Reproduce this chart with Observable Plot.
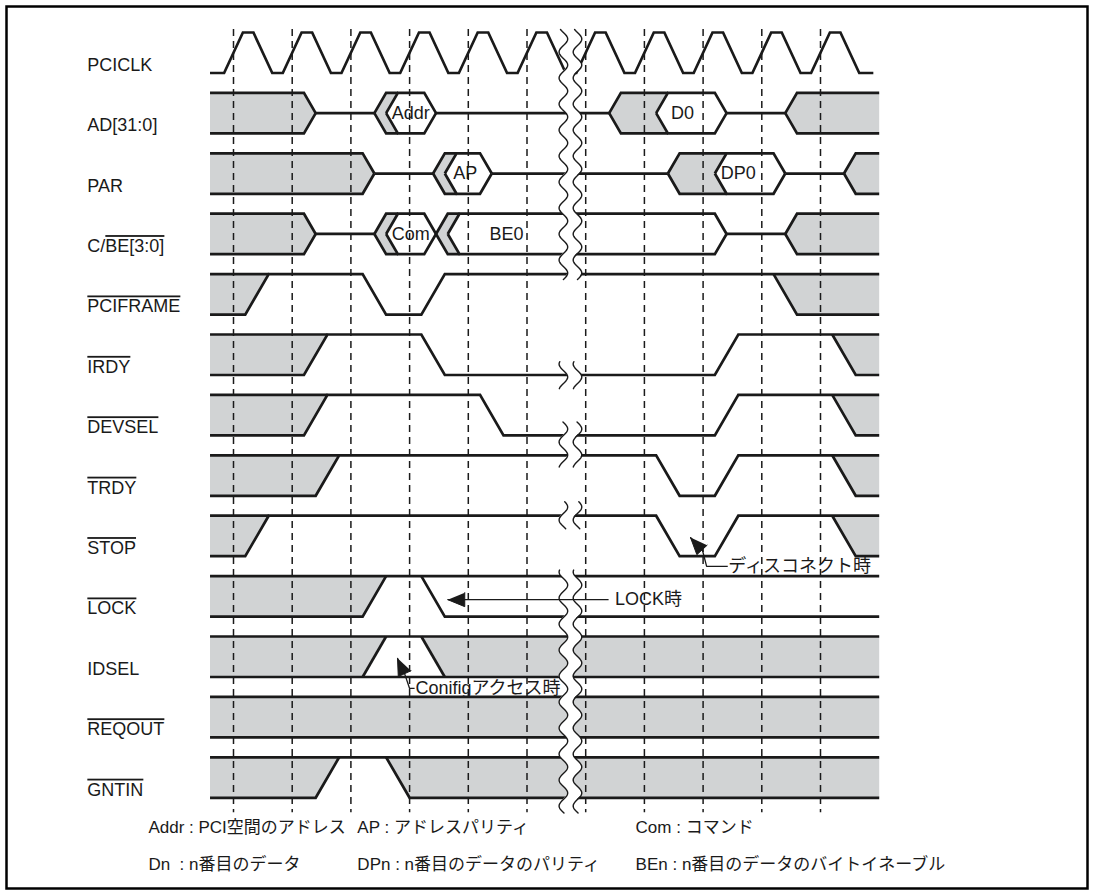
<!DOCTYPE html>
<html><head><meta charset="utf-8">
<script src="https://cdn.jsdelivr.net/npm/d3@7"></script>
<script src="https://cdn.jsdelivr.net/npm/@observablehq/plot@0.6"></script>
<style>body{margin:0;background:#fff}#chart svg{display:block}</style>
</head><body><div id="chart"></div>
<script>
// ================= DATA (times in clock periods, levels 1=high 0=low 0.5=Hi-Z) =================
const signalNames = ["PCICLK","AD[31:0]","PAR","C/BE[3:0]","PCIFRAME","IRDY","DEVSEL","TRDY","STOP","LOCK","IDSEL","REQOUT","GNTIN"];
const overlinedNames = ["PCIFRAME","IRDY","DEVSEL","TRDY","STOP","LOCK","REQOUT","GNTIN"];
const partialOverline = {"C/BE[3:0]": ["C/", "BE[3:0]"]};

const clockTicks = [0,1,2,3,4,5,6,7,8,9,10];
const clkRise = [0,1,2,3,4,5,6,7,8,9,10];
const clkFall = [0.5,1.5,2.5,3.5,4.5,5.5,6.5,7.5,8.5,9.5,10.5];
const clkSpan = [-0.4, 10.9];

const adBus = [
  {kind:"x", start:-0.4, end:1.4},
  {kind:"z", start:1.4, end:2.4},
  {kind:"x", start:2.4, end:2.6},
  {kind:"v", start:2.6, end:3.45, label:"Addr", at:3.02},
  {kind:"z", start:3.45, end:6.4},
  {kind:"x", start:6.4, end:7.2},
  {kind:"v", start:7.2, end:8.4, label:"D0", at:7.65},
  {kind:"z", start:8.4, end:9.4},
  {kind:"x", start:9.4, end:11}
];
const parBus = [
  {kind:"x", start:-0.4, end:2.4},
  {kind:"z", start:2.4, end:3.4},
  {kind:"x", start:3.4, end:3.6},
  {kind:"v", start:3.6, end:4.4, label:"AP", at:3.95},
  {kind:"z", start:4.4, end:7.4},
  {kind:"x", start:7.4, end:8.2},
  {kind:"v", start:8.2, end:9.4, label:"DP0", at:8.6},
  {kind:"z", start:9.4, end:10.4},
  {kind:"x", start:10.4, end:11}
];
const cbeBus = [
  {kind:"x", start:-0.4, end:1.4},
  {kind:"z", start:1.4, end:2.4},
  {kind:"x", start:2.4, end:2.6},
  {kind:"v", start:2.6, end:3.45, label:"Com", at:3.02},
  {kind:"x", start:3.45, end:3.65},
  {kind:"v", start:3.65, end:8.4, label:"BE0", at:4.65},
  {kind:"z", start:8.4, end:9.4},
  {kind:"x", start:9.4, end:11}
];

const pciframeLines = [[[-0.4,0],[0.2,0],[0.6,1],[2.2,1],[2.6,0],[3.2,0],[3.6,1],[11,1]], [[-0.4,1],[0.6,1]], [[9.2,1],[9.6,0],[11,0]]];
const pciframeGray  = [[[-0.4,1],[0.6,1],[0.2,0],[-0.4,0]], [[9.2,1],[11,1],[11,0],[9.6,0]]];
const irdyLines = [[[-0.4,0],[1.2,0],[1.6,1],[3.2,1],[3.6,0],[8.2,0],[8.6,1],[11,1]], [[-0.4,1],[1.6,1]], [[10.2,1],[10.6,0],[11,0]]];
const irdyGray  = [[[-0.4,1],[1.6,1],[1.2,0],[-0.4,0]], [[10.2,1],[11,1],[11,0],[10.6,0]]];
const devselLines = [[[-0.4,0],[1.2,0],[1.6,1],[4.2,1],[4.6,0],[8.2,0],[8.6,1],[11,1]], [[-0.4,1],[1.6,1]], [[10.2,1],[10.6,0],[11,0]]];
const devselGray  = [[[-0.4,1],[1.6,1],[1.2,0],[-0.4,0]], [[10.2,1],[11,1],[11,0],[10.6,0]]];
const trdyLines = [[[-0.4,0],[1.4,0],[1.8,1],[7.2,1],[7.6,0],[8.2,0],[8.6,1],[11,1]], [[-0.4,1],[1.8,1]], [[10.2,1],[10.6,0],[11,0]]];
const trdyGray  = [[[-0.4,1],[1.8,1],[1.4,0],[-0.4,0]], [[10.2,1],[11,1],[11,0],[10.6,0]]];
const stopLines = [[[-0.4,0],[0.2,0],[0.6,1],[7.2,1],[7.6,0],[8.2,0],[8.6,1],[11,1]], [[-0.4,1],[0.6,1]], [[10.2,1],[10.6,0],[11,0]]];
const stopGray  = [[[-0.4,1],[0.6,1],[0.2,0],[-0.4,0]], [[10.2,1],[11,1],[11,0],[10.6,0]]];
const lockLines = [[[-0.4,1],[11,1]], [[-0.4,0],[2.2,0],[2.6,1]], [[3.2,1],[3.6,0],[11,0]]];
const lockGray  = [[[-0.4,1],[2.6,1],[2.2,0],[-0.4,0]]];
const idselLines = [[[-0.4,1],[11,1]], [[-0.4,0],[11,0]], [[2.2,0],[2.6,1]], [[3.2,1],[3.6,0]]];
const idselGray  = [[[-0.4,1],[2.6,1],[2.2,0],[-0.4,0]], [[3.2,1],[11,1],[11,0],[3.6,0]]];
const reqoutLines = [[[-0.4,1],[11,1]], [[-0.4,0],[11,0]]];
const reqoutGray  = [[[-0.4,1],[11,1],[11,0],[-0.4,0]]];
const gntinLines = [[[-0.4,1],[11,1]], [[-0.4,0],[1.4,0],[1.8,1]], [[2.6,1],[3.0,0],[11,0]]];
const gntinGray  = [[[-0.4,1],[1.8,1],[1.4,0],[-0.4,0]], [[2.6,1],[11,1],[11,0],[3.0,0]]];

// break (time of the two wavy lines, vertical runs in row units)
const breakTimes = [5.62, 5.86];
const breakRuns = [[-0.05,4.1],[5.45,5.9],[6.45,7.2],[7.77,8.23],[8.9,12.93]];

// annotations: text anchor (t,row) and leader path ending at the arrow tip
const annotations = [
  {text:"LOCK時", t:6.5, row:9.39, path:[[6.39,9.39],[3.65,9.39]]},
  {text:"ディスコネクト時", t:8.43, row:8.84, path:[[8.42,8.84],[8.06,8.84],[7.99,8.576],[7.785,8.36]]},
  {text:"Conifigアクセス時", t:3.1, row:10.86, path:[[3.085,10.86],[3.0,10.86],[2.913,10.61],[2.794,10.36]]}
];

const noteTexts = [
  ["Addr : PCI空間のアドレス", "AP : アドレスパリティ", "Com : コマンド"],
  ["Dn\u00a0\u00a0: n番目のデータ", "DPn : n番目のデータのパリティ", "BEn : n番目のデータのバイトイネーブル"]
];

// ================= LAYOUT / STYLE =================
const X0 = 233, DX = 58.7, Y0 = 32, DY = 60.4;
const ROW_H = 40.5 / DY;
const W = 0.2, EDGE = 0.16, LEFT = -0.4, RIGHT = 11;
const GRAY = "#d1d3d4", INK = "#1a1a1a";
const FONT = '"Liberation Sans", Arial, "Noto Sans CJK JP", sans-serif';
const labelT = -2.49, labelDy = 0.54;
const noteCols = [-1.45, 2.11, 6.85], noteRows = [13.16, 13.78];

const lv = (row, level) => row + (1 - level) * ROW_H;
const fills = [], strokes = [], thin = [], heads = [];
let uid = 0;
function addPath(arr, row, pts) { const id = uid++; pts.forEach(([t, l]) => arr.push({id, x: t, y: lv(row, l)})); }

// clock
{
  const pts = [[clkSpan[0], 0]];
  clkRise.forEach((r, i) => { pts.push([r - EDGE, 0], [r + EDGE, 1], [clkFall[i] - EDGE, 1], [clkFall[i] + EDGE, 0]); });
  pts.push([clkSpan[1], 0]);
  addPath(strokes, 0, pts);
}
// buses
const busLabels = [];
function addBus(row, segs) {
  segs.forEach((s, i) => {
    if (s.kind === "z") { addPath(strokes, row, [[s.start, .5], [s.end, .5]]); return; }
    const next = segs[i + 1];
    const flatL = s.start <= LEFT, flatR = s.end >= RIGHT;
    const notchR = !flatR && next && next.kind === "v" && s.kind === "x";
    const xl = flatL ? s.start : s.start + W;
    const xr = flatR ? s.end : notchR ? s.end + W : s.end - W;
    const upper = [], lower = [];
    if (!flatL) { upper.push([s.start, .5]); lower.push([s.start, .5]); }
    upper.push([xl, 1], [xr, 1]); lower.push([xl, 0], [xr, 0]);
    if (!flatR && !notchR) { upper.push([s.end, .5]); lower.push([s.end, .5]); }
    addPath(strokes, row, upper); addPath(strokes, row, lower);
    if (s.kind === "x") {
      const poly = [...upper];
      if (notchR) poly.push([s.end, .5]);
      poly.push(...lower.slice().reverse());
      addPath(fills, row, poly);
    }
    if (s.label) busLabels.push({x: s.at, y: lv(row, .5), text: s.label});
  });
}
addBus(1, adBus); addBus(2, parBus); addBus(3, cbeBus);
// control signals
[[4, pciframeLines, pciframeGray], [5, irdyLines, irdyGray], [6, devselLines, devselGray],
 [7, trdyLines, trdyGray], [8, stopLines, stopGray], [9, lockLines, lockGray],
 [10, idselLines, idselGray], [11, reqoutLines, reqoutGray], [12, gntinLines, gntinGray]]
.forEach(([row, lines, grays]) => {
  grays.forEach(g => addPath(fills, row, g));
  lines.forEach(l => addPath(strokes, row, l));
});

// break waves
const breakFill = [], breakLines = [];
breakRuns.forEach(([r1, r2], k) => {
  const p1 = Y0 + r1 * DY, p2 = Y0 + r2 * DY;
  for (let p = p1; p <= p2 + 0.01; p += 1) {
    const off = 4.3 * Math.sin(2 * Math.PI * (p - Y0) / 26) / DX;
    const y = (p - Y0) / DY;
    breakFill.push({id: k, y, x1: breakTimes[0] + off, x2: breakTimes[1] + off});
    breakLines.push({id: "a" + k, y, x: breakTimes[0] + off});
    breakLines.push({id: "b" + k, y, x: breakTimes[1] + off});
  }
});

// annotation arrows
const annText = [];
annotations.forEach(a => {
  addPath(thin, 0, a.path.map(([t, r]) => [t, 1 - (r) / ROW_H]));
  annText.push({x: a.t, y: a.row, text: a.text});
  const n = a.path.length;
  const [tt, tr] = a.path[n - 1], [bt, br] = a.path[n - 2];
  const tip = [X0 + tt * DX, Y0 + tr * DY], prev = [X0 + bt * DX, Y0 + br * DY];
  let ux = prev[0] - tip[0], uy = prev[1] - tip[1]; const len = Math.hypot(ux, uy); ux /= len; uy /= len;
  const L = 17, H = 7;
  const bx = tip[0] + ux * L, by = tip[1] + uy * L;
  const pts = [tip, [bx - uy * H, by + ux * H], [bx + uy * H, by - ux * H]];
  const id = uid++;
  pts.forEach(([px, py]) => heads.push({id, x: (px - X0) / DX, y: (py - Y0) / DY}));
});

const labels = signalNames.map((s, i) => ({x: labelT, y: i + labelDy, text: s}));
const notes = [];
noteTexts.forEach((line, j) => line.forEach((s, c) => notes.push({x: noteCols[c], y: noteRows[j], text: s})));

const chart = Plot.plot({
  width: 1093, height: 896,
  marginLeft: 6, marginRight: 6, marginTop: 6, marginBottom: 8,
  x: {domain: [0, 10], range: [X0, X0 + 10 * DX], axis: null},
  y: {domain: [0, 13], range: [Y0, Y0 + 13 * DY], axis: null},
  style: {background: "white", fontFamily: FONT, overflow: "visible"},
  marks: [
    Plot.line(fills, {x: "x", y: "y", z: "id", fill: GRAY, stroke: "none"}),
    Plot.ruleX(clockTicks, {x: d => d, y1: -0.05, y2: 12.92, stroke: INK, strokeWidth: 1.5, strokeDasharray: "7,5"}),
    Plot.line(strokes, {x: "x", y: "y", z: "id", stroke: INK, strokeWidth: 2.7, strokeLinejoin: "miter", strokeMiterlimit: 6, strokeLinecap: "butt"}),
    Plot.areaX(breakFill, {y: "y", x1: "x1", x2: "x2", z: "id", fill: "white"}),
    Plot.line(breakLines, {x: "x", y: "y", z: "id", stroke: INK, strokeWidth: 1.4}),
    Plot.line(thin, {x: "x", y: "y", z: "id", stroke: INK, strokeWidth: 1.3, strokeLinejoin: "miter", strokeLinecap: "butt"}),
    Plot.line(heads, {x: "x", y: "y", z: "id", fill: INK, stroke: INK, strokeWidth: 1}),
    Plot.text(labels, {x: "x", y: "y", text: "text", textAnchor: "start", fontSize: 18, fill: INK}),
    Plot.text(busLabels, {x: "x", y: "y", text: "text", fontSize: 18, fill: INK}),
    Plot.text(annText, {x: "x", y: "y", text: "text", textAnchor: "start", fontSize: 18, fill: INK}),
    Plot.text(notes, {x: "x", y: "y", text: "text", textAnchor: "start", fontSize: 17, fill: INK}),
    Plot.frame({stroke: "#000", strokeWidth: 2.5})
  ]
});

// overlines for active-low signal names
chart.querySelectorAll("text").forEach(el => {
  const s = el.textContent;
  if (overlinedNames.includes(s)) el.style.textDecoration = "overline";
  if (partialOverline[s]) {
    const [a, b] = partialOverline[s];
    el.textContent = "";
    d3.select(el).append("tspan").text(a);
    d3.select(el).append("tspan").style("text-decoration", "overline").text(b);
  }
});
document.getElementById("chart").appendChild(chart);
</script>
</body></html>
